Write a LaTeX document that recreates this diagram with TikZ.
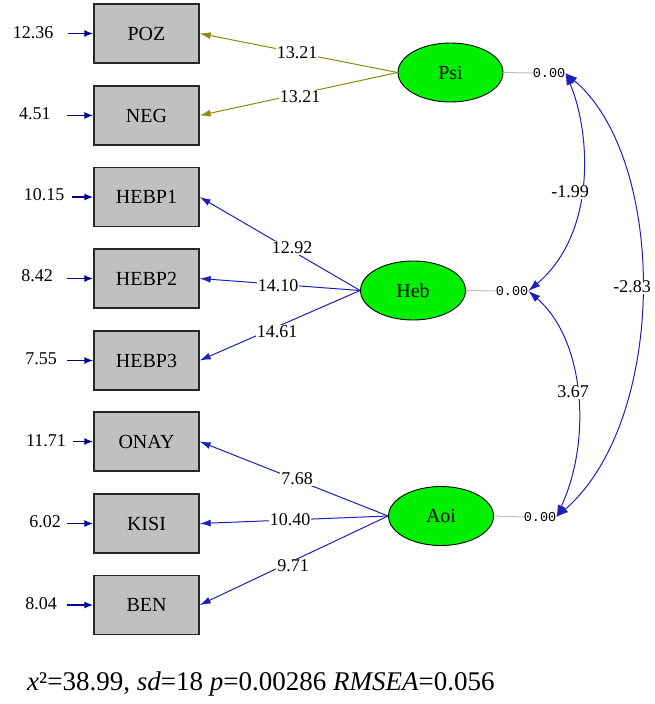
\documentclass[tikz,border=0pt]{standalone}
\usepackage{fontspec}
\setmainfont{Liberation Serif}
\newfontfamily\monofont{Liberation Mono}
\usetikzlibrary{arrows.meta,shapes.geometric}
\definecolor{boxgray}{RGB}{192,192,192}
\definecolor{latgreen}{RGB}{0,240,0}
\definecolor{olivec}{RGB}{140,140,10}
\definecolor{bluec}{RGB}{30,30,185}
\definecolor{navyc}{RGB}{0,0,150}
\definecolor{zerogray}{RGB}{190,190,190}
\tikzset{
  obs/.style={draw=black!85, line width=1.3pt, fill=boxgray, minimum width=105pt, minimum height=59pt, inner sep=0pt, font=\fontsize{20}{22}\selectfont},
  lat/.style={ellipse, draw=black, line width=0.9pt, fill=latgreen, minimum width=105pt, minimum height=59pt, inner sep=0pt, font=\fontsize{20}{22}\selectfont},
  lab/.style={fill=white, inner sep=1pt, font=\fontsize{18}{20}\selectfont},
  elab/.style={inner sep=0pt, font=\fontsize{18}{20}\selectfont},
  zero/.style={inner sep=0pt, font=\monofont\fontsize{13.5}{14}\selectfont},
  loadol/.style={draw=olivec, line width=1pt, -{Latex[length=11pt,width=7pt]}},
  loadbl/.style={draw=bluec, line width=1pt, -{Latex[length=11pt,width=7pt]}},
  errarr/.style={draw=navyc, line width=1.6pt, -{Latex[length=9pt,width=7pt]}},
  covarr/.style={draw=bluec, line width=1pt, {Latex[length=12pt,width=8pt]}-{Latex[length=12pt,width=8pt]}},
  zline/.style={draw=zerogray, line width=1pt},
}
\begin{document}
\begin{tikzpicture}[x=1pt,y=-1pt]
\useasboundingbox (0,0) rectangle (654,704);
% observed
\node[obs] (poz) at (146.5,33.5) {POZ};
\node[obs] (neg) at (146.5,115.5) {NEG};
\node[obs] (h1) at (146.5,197) {HEBP1};
\node[obs] (h2) at (146.5,278.5) {HEBP2};
\node[obs] (h3) at (146.5,360.5) {HEBP3};
\node[obs] (onay) at (146.5,441.5) {ONAY};
\node[obs] (kisi) at (146.5,523.5) {KISI};
\node[obs] (ben) at (146.5,605) {BEN};
% latent
\node[lat] (psi) at (450.5,72.5) {Psi};
\node[lat] (heb) at (413,290.5) {Heb};
\node[lat] (aoi) at (441,516) {Aoi};
% zero labels
\node[zero] (psiz) at (549,73) {0.00};
\node[zero] (hebz) at (512,291) {0.00};
\node[zero] (aoiz) at (540,517) {0.00};
\draw[zline] (psi.east) -- (psiz.west);
\draw[zline] (heb.east) -- (hebz.west);
\draw[zline] (aoi.east) -- (aoiz.west);
% error terms
\coordinate (epoz) at (68,33.5);
\coordinate (eneg) at (67,115.5);
\coordinate (eh1) at (72,197);
\coordinate (eh2) at (67,278.5);
\coordinate (eh3) at (67,360.5);
\coordinate (eonay) at (73,441.5);
\coordinate (ekisi) at (67,523.5);
\coordinate (eben) at (67,605);
\draw[errarr] (epoz) -- (poz.west);
\draw[errarr] (eneg) -- (neg.west);
\draw[errarr] (eh1) -- (h1.west);
\draw[errarr] (eh2) -- (h2.west);
\draw[errarr] (eh3) -- (h3.west);
\draw[errarr] (eonay) -- (onay.west);
\draw[errarr] (ekisi) -- (kisi.west);
\draw[errarr] (eben) -- (ben.west);
\node[elab] (lpoz) at (33,33) {12.36};
\node[elab] (lneg) at (35,114) {4.51};
\node[elab] (lh1) at (44,195) {10.15};
\node[elab] (lh2) at (37,276) {8.42};
\node[elab] (lh3) at (41,359) {7.55};
\node[elab] (lonay) at (46,441) {11.71};
\node[elab] (lkisi) at (45,522) {6.02};
\node[elab] (lben) at (41,604) {8.04};
% loadings
\draw[loadol] (psi.west) -- (poz.east);
\draw[loadol] (psi.west) -- (neg.east);
\draw[loadbl] (heb.west) -- (h1.east);
\draw[loadbl] (heb.west) -- (h2.east);
\draw[loadbl] (heb.west) -- (h3.east);
\draw[loadbl] (aoi.west) -- (onay.east);
\draw[loadbl] (aoi.west) -- (kisi.east);
\draw[loadbl] (aoi.west) -- (ben.east);
\node[lab] (w1) at (297,53) {13.21};
\node[lab] (w2) at (300,97) {13.21};
\node[lab] (w3) at (292,248) {12.92};
\node[lab] (w4) at (278,286) {14.10};
\node[lab] (w5) at (277,332) {14.61};
\node[lab] (w6) at (297,479) {7.68};
\node[lab] (w7) at (290,520) {10.40};
\node[lab] (w8) at (293,566) {9.71};
% covariances
\draw[covarr] (psiz.east) .. controls (590,130) and (598,232) .. (hebz.east);
\draw[covarr] (psiz.east) .. controls (668,160) and (668,420) .. (aoiz.east);
\draw[covarr] (hebz.east) .. controls (585,340) and (592,440) .. (aoiz.east);
\node[lab] (c1) at (570,192) {-1.99};
\node[lab] (c2) at (632,287) {-2.83};
\node[lab] (c3) at (573,392) {3.67};
% fit
\node[anchor=west, inner sep=0pt, font=\fontsize{27}{29}\selectfont] (fit) at (27,684) {\textit{x}²=38.99, \textit{sd}=18 \textit{p}=0.00286 \textit{RMSEA}=0.056};
\end{tikzpicture}
\end{document}
